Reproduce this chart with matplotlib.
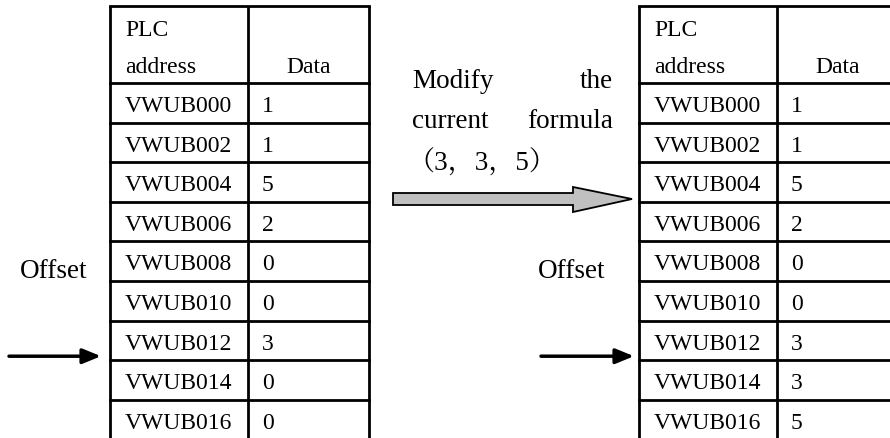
import matplotlib
matplotlib.use("Agg")
import matplotlib.pyplot as plt
from matplotlib.patches import Polygon

# table contents
addresses = ["VWUB000", "VWUB002", "VWUB004", "VWUB006", "VWUB008",
             "VWUB010", "VWUB012", "VWUB014", "VWUB016"]
data_before = [1, 1, 5, 2, 0, 0, 3, 0, 0]
data_after = [1, 1, 5, 2, 0, 0, 3, 3, 5]
header_addr = ["PLC", "address"]
header_data = "Data"
offset_label = "Offset"
modify_lines = [("Modify", "the"), ("current", "formula")]
formula = "（3，3，5）"
pointer_row = 6

SERIF = ["Liberation Serif", "Noto Serif CJK SC", "Noto Sans CJK SC"]

fig = plt.figure(figsize=(8.9, 4.38), dpi=100)
ax = fig.add_axes([0, 0, 1, 1])
ax.set_xlim(0, 890)
ax.set_ylim(438, 0)
ax.axis("off")

top = 6
head_bot = 83
row_h = 39.6
col1_w = 138
col2_w = 121
fs_tab = 17
lw = 2


def draw_table(x0, values):
    xm = x0 + col1_w
    x1 = xm + col2_w
    ybot = 440
    for x in (x0, xm, x1):
        ax.plot([x, x], [top, ybot], color="black", lw=lw, solid_capstyle="butt")
    ax.plot([x0, x1], [top, top], color="black", lw=lw)
    ax.plot([x0, x1], [head_bot, head_bot], color="black", lw=lw)
    ax.text(x0 + 15, 36, header_addr[0], fontsize=fs_tab, family=SERIF, va="baseline")
    ax.text(x0 + 15, 73, header_addr[1], fontsize=fs_tab, family=SERIF, va="baseline")
    ax.text((xm + x1) / 2, 73, header_data, fontsize=fs_tab, family=SERIF,
            va="baseline", ha="center")
    for i, (a, v) in enumerate(zip(addresses, values)):
        y = head_bot + i * row_h
        if i > 0:
            ax.plot([x0, x1], [y, y], color="black", lw=lw)
        yb = y + 29
        ax.text(x0 + 15, yb, a, fontsize=fs_tab, family=SERIF, va="baseline")
        ax.text(xm + 14, yb, str(v), fontsize=fs_tab, family=SERIF, va="baseline")


draw_table(110, data_before)
draw_table(639, data_after)

# offset labels and pointer arrows
fs_big = 19.5
ptr_y = head_bot + (pointer_row + 1) * row_h - 4
for lx, ax0, ax1 in [(20, 9, 101), (538, 541, 634)]:
    ax.text(lx, 278, offset_label, fontsize=fs_big, family=SERIF, va="baseline")
    ax.annotate("", xy=(ax1, ptr_y), xytext=(ax0, ptr_y),
                arrowprops=dict(arrowstyle="-|>,head_length=1.1,head_width=0.45",
                                color="black", lw=2.5, shrinkA=0, shrinkB=0))

# modify text, justified
for (lw_txt, rw_txt), y in zip(modify_lines, [88, 128]):
    ax.text(412, y, lw_txt, fontsize=fs_big, family=SERIF, va="baseline")
    ax.text(613, y, rw_txt, fontsize=fs_big, family=SERIF, va="baseline", ha="right")
ax.text(407, 163, formula, fontsize=fs_big, family=SERIF, va="center")

# big grey arrow
pts = [(393, 193), (573, 193), (573, 187), (632, 199), (573, 212),
       (573, 205), (393, 205)]
ax.add_patch(Polygon(pts, closed=True, facecolor="#c0c0c0", edgecolor="black", lw=1.3))

fig.savefig("out.png", dpi=100)
